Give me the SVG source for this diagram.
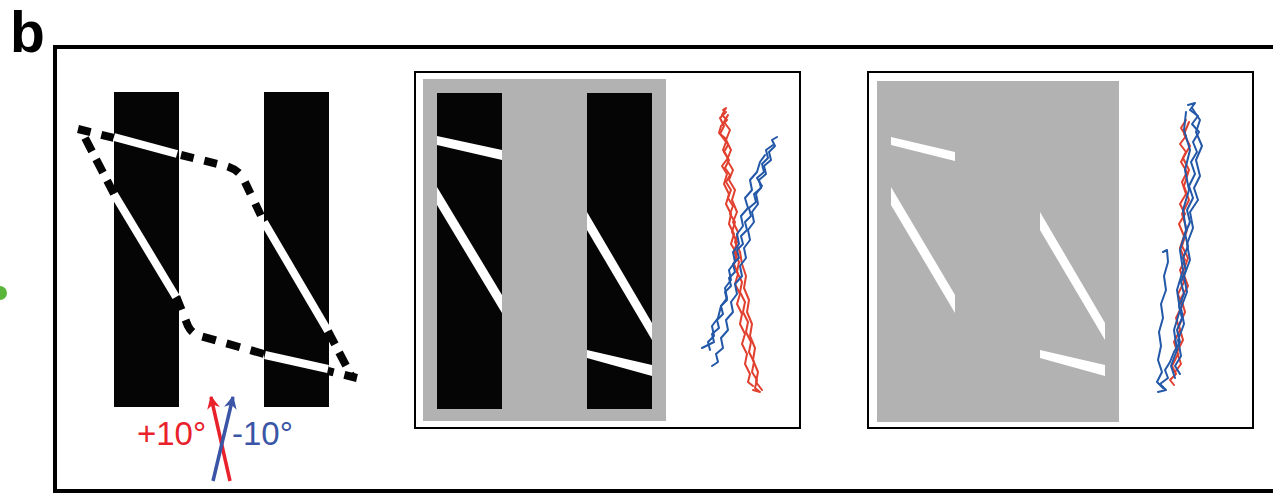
<svg xmlns="http://www.w3.org/2000/svg" width="1273" height="497" viewBox="0 0 1273 497">
<style>
.bar{fill:#050505}
.gray{fill:#b2b2b2}
.wl{stroke:#fff;stroke-width:8;fill:none}
.wp{fill:#fff}
.dash{stroke:#050505;stroke-width:8;fill:none;stroke-dasharray:13 11}
.frame{fill:#fff;stroke:#000;stroke-width:2}
.tr{fill:none;stroke:#e2402f;stroke-width:2;stroke-linejoin:round;stroke-linecap:round}
.tb{fill:none;stroke:#2358a8;stroke-width:2;stroke-linejoin:round;stroke-linecap:round}
.lbl{font-family:"Liberation Sans",Arial,sans-serif;font-size:33px}
</style>
<defs>
<marker id="hr" viewBox="0 0 10 10" refX="9" refY="5" markerWidth="3.7" markerHeight="3.7" orient="auto" markerUnits="strokeWidth"><path d="M0,0 L10,5 L0,10 L3,5 z" fill="#e8212b"/></marker>
<marker id="hb" viewBox="0 0 10 10" refX="9" refY="5" markerWidth="3.7" markerHeight="3.7" orient="auto" markerUnits="strokeWidth"><path d="M0,0 L10,5 L0,10 L3,5 z" fill="#3a54a6"/></marker>
</defs>
<rect width="1273" height="497" fill="#fff"/>
<circle cx="0" cy="293" r="7" fill="#5ab53a"/>
<text x="10" y="52" font-family="Liberation Sans,Arial,sans-serif" font-size="57" font-weight="bold">b</text>
<rect id="outer" x="55" y="47" width="1240" height="444" fill="none" stroke="#000" stroke-width="4"/>

<g id="panel1">
<rect class="bar" x="114" y="92" width="65" height="315"/>
<rect class="bar" x="264" y="92" width="65" height="315"/>
<path class="dash" d="M78,129 L114,138"/>
<path class="dash" d="M181,155 L222,165 Q238,168 244,180 L264,222"/>
<path class="dash" d="M328,331 L352,377" style="stroke-dasharray:15 9"/>
<path class="dash" d="M357,378 L328,371"/>
<path class="dash" d="M264,354 L200,336 Q192,334 188,326 L176,296" style="stroke-dasharray:14 11"/>
<path class="dash" d="M114,194 L82,132" style="stroke-dasharray:15 9"/>
<line class="wl" x1="114" y1="137" x2="177" y2="154"/>
<line class="wl" x1="114" y1="194" x2="176" y2="297"/>
<line class="wl" x1="264" y1="222" x2="328" y2="331"/>
<line class="wl" x1="265" y1="355" x2="328" y2="369"/>
</g>

<g id="arrows">
<line x1="230" y1="481" x2="211" y2="397" stroke="#e8212b" stroke-width="3.5" marker-end="url(#hr)"/>
<line x1="213" y1="481" x2="233" y2="397" stroke="#3a54a6" stroke-width="3.5" marker-end="url(#hb)"/>
<text class="lbl" x="137" y="445" fill="#e8212b">+10°</text>
<text class="lbl" x="232" y="445" fill="#3a54a6">-10°</text>
</g>

<g id="panel2">
<rect class="frame" x="415" y="72" width="385" height="356"/>
<rect class="gray" x="423" y="79" width="243" height="342"/>
<rect class="bar" x="437" y="93" width="65" height="316"/>
<rect class="bar" x="587" y="93" width="65" height="316"/>
<polygon class="wp" points="437,136 502,150 502,160 437,145"/>
<polygon class="wp" points="437,187 502,295 502,313 437,205"/>
<polygon class="wp" points="587,212 652,323 652,340 587,230"/>
<polygon class="wp" points="587,350 652,365 652,376 587,358"/>
<g id="traces2">
<path class="tr" d="M723,110 L726,108 L722,115 L727,120 L721,126 L719,133 L725,138 L728,145 L724,152 L729,160 L725,168 L730,175 L726,182 L731,190 L728,198 L733,206 L730,214 L735,222 L732,232 L737,242 L734,252 L739,262 L737,272 L742,282 L740,292 L745,302 L743,312 L748,322 L746,332 L751,342 L749,352 L754,362 L752,372 L757,380 L755,388 L760,392 L753,390"/>
<path class="tr" d="M726,112 L720,118 L724,126 L720,134 L726,142 L723,150 L728,158 L722,166 L727,174 L724,184 L729,194 L726,204 L731,214 L729,224 L734,234 L731,244 L737,254 L734,264 L738,274 L735,284 L740,294 L737,304 L742,314 L740,324 L745,334 L742,344 L747,354 L745,364 L750,374 L748,382 L753,386"/>
<path class="tr" d="M728,115 L724,122 L730,130 L726,140 L731,150 L727,160 L733,170 L729,180 L735,190 L732,200 L737,212 L733,222 L738,232 L735,242 L740,252 L742,264 L746,276 L744,288 L749,300 L747,312 L752,324 L750,336 L755,348 L753,360 L758,372 L756,382 L762,390"/>
<path class="tb" d="M777,137 L772,140 L775,146 L769,152 L771,160 L764,166 L766,174 L759,180 L761,188 L754,194 L756,202 L749,208 L751,216 L745,222 L747,230 L741,236 L743,244 L737,250 L739,258 L733,264 L735,272 L729,278 L731,286 L725,292 L727,300 L721,306 L723,314 L717,320 L719,328 L712,334 L714,342 L706,346 L702,348"/>
<path class="tb" d="M773,145 L766,150 L768,158 L762,164 L764,172 L757,178 L762,186 L756,194 L758,204 L752,212 L754,222 L748,230 L750,240 L744,248 L746,258 L740,266 L742,276 L735,284 L737,294 L731,302 L733,312 L726,320 L728,330 L721,338 L723,348 L716,354 L718,362 L712,366"/>
<path class="tb" d="M765,155 L760,162 L757,172 L750,180 L752,190 L745,198 L748,208 L741,216 L743,226 L737,234 L739,244 L733,252 L735,262 L729,270 L731,280 L725,288 L727,298 L721,306 L718,318 L712,326 L714,336 L708,342 L710,350"/>
</g>
</g>

<g id="panel3">
<rect class="frame" x="868" y="72" width="385" height="356"/>
<rect class="gray" x="877" y="81" width="242" height="341"/>
<polygon class="wp" points="891,137 955,152 955,161 891,145"/>
<polygon class="wp" points="891,187 955,295 955,313 891,205"/>
<polygon class="wp" points="1040,212 1105,323 1105,340 1040,230"/>
<polygon class="wp" points="1040,350 1105,365 1105,376 1040,358"/>
<g id="traces3">
<path class="tr" d="M1186,120 L1181,128 L1186,136 L1180,144 L1186,152 L1181,162 L1187,172 L1182,182 L1186,194 L1180,204 L1185,214 L1179,224 L1184,236 L1180,248 L1185,260 L1180,270 L1184,282 L1178,294 L1182,306 L1176,318 L1180,330 L1174,342 L1178,354 L1172,366 L1176,374 L1170,380 L1174,385"/>
<path class="tr" d="M1189,122 L1184,134 L1190,146 L1183,158 L1189,170 L1184,186 L1189,200 L1182,214 L1187,230 L1182,246 L1188,258 L1183,272 L1188,286 L1181,298 L1185,312 L1179,326 L1183,340 L1177,352 L1181,364 L1175,372"/>
<path class="tb" d="M1188,105 L1195,103 L1190,110 L1198,116 L1192,124 L1199,132 L1193,142 L1197,152 L1191,162 L1195,174 L1189,186 L1193,198 L1187,210 L1190,222 L1185,234 L1188,246 L1183,258 L1186,270 L1181,282 L1184,294 L1179,306 L1182,318 L1177,330 L1180,342 L1174,352 L1170,362 L1165,370 L1168,378 L1160,384 L1166,390 L1158,392"/>
<path class="tb" d="M1192,108 L1200,120 L1196,132 L1202,146 L1196,160 L1200,176 L1194,188 L1198,200 L1190,212 L1193,228 L1187,244 L1190,260 L1184,276 L1187,292 L1181,308 L1184,324 L1178,340 L1181,356 L1175,366 L1180,374"/>
<path class="tb" d="M1163,252 L1167,250 L1168,262 L1164,276 L1166,290 L1161,304 L1163,318 L1159,332 L1161,346 L1158,360 L1162,372 L1157,382 L1163,388"/>
<path class="tb" d="M1186,112 L1184,130 L1190,150 L1185,170 L1189,190 L1183,210 L1186,230 L1180,250 L1183,270 L1177,290 L1180,310 L1174,330 L1177,350 L1171,366 L1175,378"/>
</g>
</g>
</svg>
